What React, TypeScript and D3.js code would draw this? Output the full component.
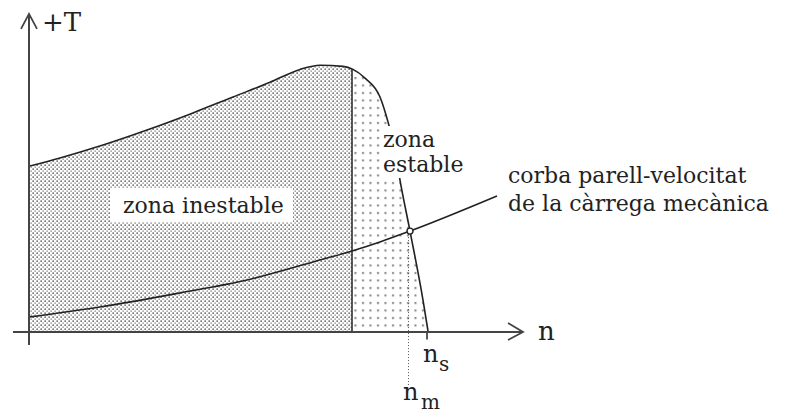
import React from "react";
import * as d3 from "d3";

// Motor torque-speed curve (n, T)
const torqueN = [0, 7.5, 18.25, 29.25, 40.75, 50.75, 60, 67.5, 72.5, 78.25, 80.75, 83.75, 87.5, 89.5, 91.25, 92.5, 95, 98.25, 99.5];
const torqueT = [55, 57.7, 62, 67, 72.7, 78, 82.9, 87.2, 88.6, 88.2, 87.2, 84.3, 78, 69.7, 60.3, 50.3, 33.3, 10.3, 0];
// Load torque-speed curve
const loadN = [0, 17.5, 37.5, 54.25, 70.75, 80.5, 87.5, 95, 116.75];
const loadT = [4.7, 8, 12.7, 17, 23, 26.7, 29.7, 33.3, 45];
// Key speeds
const nSplit = 80.5; // boundary between unstable and stable zone (max torque)
const nM = 95; // operating point
const tM = 33.3;
const nS = 99.5; // synchronous speed

const W = 785;
const H = 413;

export default function App() {
  const x = d3.scaleLinear().domain([0, 100]).range([30, 430]);
  const y = d3.scaleLinear().domain([0, 100]).range([331, 31]);

  const torquePts: [number, number][] = torqueN.map((n, i) => [n, torqueT[i]]);
  const loadPts: [number, number][] = loadN.map((n, i) => [n, loadT[i]]);

  const line = d3
    .line<[number, number]>()
    .x((d) => x(d[0]))
    .y((d) => y(d[1]))
    .curve(d3.curveMonotoneX);
  const area = d3
    .area<[number, number]>()
    .x((d) => x(d[0]))
    .y0(y(0))
    .y1((d) => y(d[1]))
    .curve(d3.curveMonotoneX);

  const tSplit = (() => {
    const i = torqueN.findIndex((n) => n >= nSplit);
    const n0 = torqueN[i - 1], n1 = torqueN[i];
    const t0 = torqueT[i - 1], t1 = torqueT[i];
    return t0 + ((nSplit - n0) / (n1 - n0)) * (t1 - t0);
  })();

  const axisColor = "#444";
  const lineColor = "#222";
  const font = "'DejaVu Serif', serif";

  const xAxisStart = x(-4.25);
  const xAxisEnd = x(123.25);
  const yAxisTop = y(105.7);
  const yAxisBottom = y(-4.7);

  return (
    <svg
      width={W}
      height={H}
      style={{ position: "absolute", left: 0, top: 0, background: "#fff" }}
    >
      <defs>
        <pattern id="dense" width={4} height={4} patternUnits="userSpaceOnUse">
          <rect x={0.4} y={0.4} width={1.5} height={1.5} fill="#5a5a5a" />
          <rect x={2.4} y={2.4} width={1.5} height={1.5} fill="#9a9a9a" />
        </pattern>
        <pattern id="sparse" width={7.5} height={7.5} patternUnits="userSpaceOnUse">
          <rect x={2} y={2} width={2} height={2} fill="#808080" />
        </pattern>
        <clipPath id="leftClip">
          <rect x={x(0)} y={0} width={x(nSplit) - x(0)} height={y(0)} />
        </clipPath>
        <clipPath id="rightClip">
          <rect x={x(nSplit)} y={0} width={x(110) - x(nSplit)} height={y(0)} />
        </clipPath>
      </defs>
      <rect width={W} height={H} fill="#fff" />

      {/* filled zones */}
      <path d={area(torquePts) || ""} fill="url(#dense)" clipPath="url(#leftClip)" />
      <path d={area(torquePts) || ""} fill="url(#sparse)" clipPath="url(#rightClip)" />

      {/* white label box */}
      <rect x={110} y={188} width={183} height={34} fill="#fff" />

      {/* torque curve */}
      <path d={line(torquePts) || ""} fill="none" stroke={lineColor} strokeWidth={1.6} />
      {/* label box over the stable zone, hiding the curve behind it */}
      <rect x={381} y={126} width={87} height={52} fill="#fff" />

      {/* split line */}
      <line x1={x(nSplit)} x2={x(nSplit)} y1={y(0)} y2={y(tSplit)} stroke={lineColor} strokeWidth={1.5} />

      {/* load curve */}
      <path d={line(loadPts) || ""} fill="none" stroke={lineColor} strokeWidth={1.6} />

      {/* dotted line at n_m */}
      <line
        x1={x(nM) - 1.5}
        x2={x(nM) - 1.5}
        y1={y(tM) + 3}
        y2={y(-18)}
        stroke="#555"
        strokeWidth={1}
        strokeDasharray="1 2"
      />
      <line x1={x(nS) - 1} x2={x(nS) - 1} y1={y(0)} y2={y(-2.8)} stroke={lineColor} strokeWidth={1.5} />

      {/* operating point */}
      <circle cx={x(nM)} cy={y(tM)} r={3} fill="#fff" stroke={lineColor} strokeWidth={1.4} />

      {/* axes */}
      <line x1={xAxisStart} x2={xAxisEnd} y1={y(0) + 1} y2={y(0) + 1} stroke={axisColor} strokeWidth={2} />
      <path
        d={`M${xAxisEnd - 15},${y(0) - 8} L${xAxisEnd},${y(0) + 1} L${xAxisEnd - 15},${y(0) + 9}`}
        fill="none"
        stroke={axisColor}
        strokeWidth={1.8}
      />
      <line x1={x(0) - 1} x2={x(0) - 1} y1={yAxisBottom} y2={yAxisTop} stroke={axisColor} strokeWidth={2} />
      <path
        d={`M${x(0) - 9},${yAxisTop + 15} L${x(0) - 1},${yAxisTop} L${x(0) + 7},${yAxisTop + 15}`}
        fill="none"
        stroke={axisColor}
        strokeWidth={1.8}
      />

      {/* texts */}
      <g fontFamily={font} fill="#222">
        <text x={42} y={31} fontSize={26}>+T</text>
        <text x={538} y={340} fontSize={26}>n</text>
        <text x={123} y={213} fontSize={22}>zona inestable</text>
        <text x={383} y={147} fontSize={22}>zona</text>
        <text x={383} y={172} fontSize={22}>estable</text>
        <text x={508} y={183} fontSize={22}>corba parell-velocitat</text>
        <text x={508} y={211} fontSize={22}>de la càrrega mecànica</text>
        <text x={423} y={362} fontSize={24}>n</text>
        <text x={439} y={371} fontSize={20}>s</text>
        <text x={403} y={400} fontSize={24}>n</text>
        <text x={421} y={409} fontSize={20}>m</text>
      </g>
    </svg>
  );
}
